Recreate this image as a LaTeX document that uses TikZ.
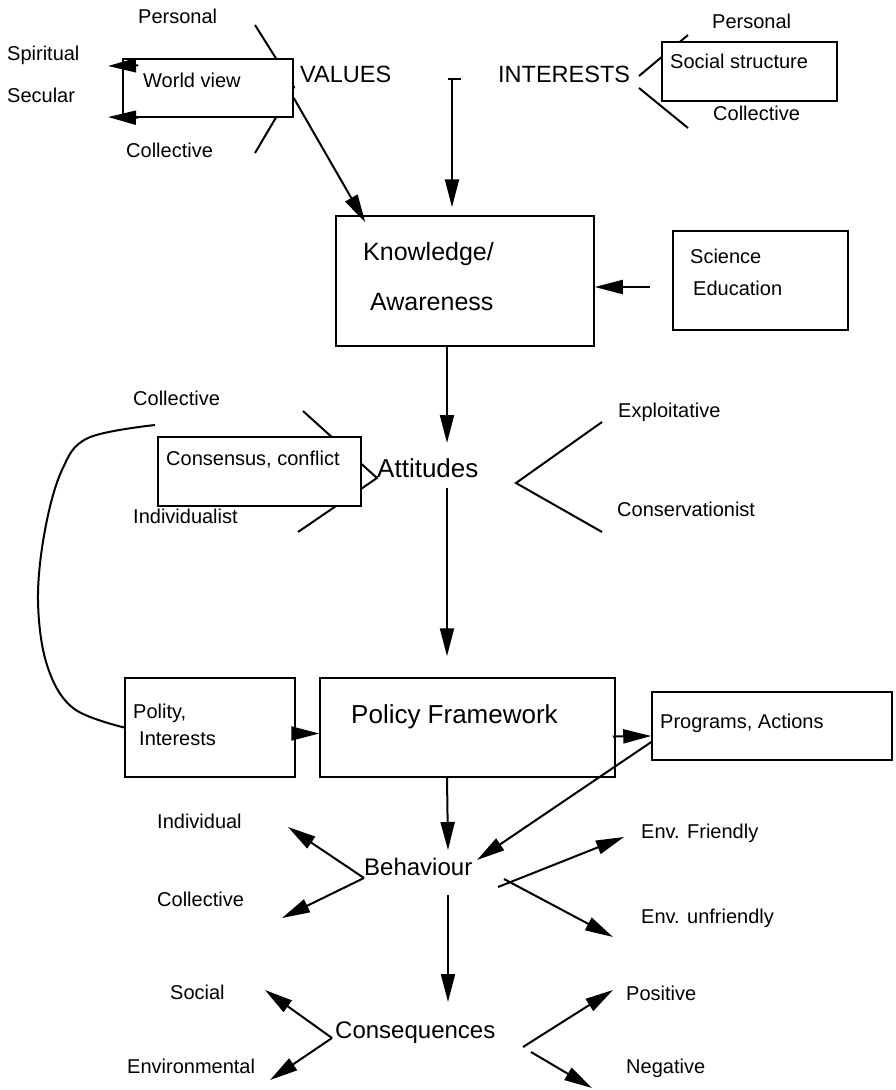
\documentclass[tikz,border=0pt]{standalone}
\usepackage{fontspec}
\setmainfont{Liberation Sans}
\usetikzlibrary{arrows.meta,calc}

\begin{document}
\begin{tikzpicture}[x=1pt, y=-1pt,
  box/.style={draw, line width=1.5pt, fill=white, inner sep=0pt},
  lbl/.style={font=\fontsize{20}{22}\selectfont, anchor=base west, inner sep=0pt},
  big/.style={font=\fontsize{24}{26}\selectfont, anchor=base west, inner sep=0pt},
  arr/.style={-{Triangle[length=28pt,width=14pt]}, line width=2pt},
  brk/.style={line width=2pt}
]
\useasboundingbox (0,0) rectangle (895,1090);

% ---- Values / Interests (top) ----
\draw[brk] (255,25) -- (294,87) -- (255,153);
\draw[brk] (639,76) -- (688,35);
\draw[brk] (639,88) -- (688,128);

\node[box, minimum width=170pt, minimum height=58pt] (world) at (208,88) {};
\node[box, minimum width=175pt, minimum height=59pt] (social) at (749.5,71.5) {};

\node[lbl] (pers1) at (138,23) {Personal};
\node[lbl] (spir) at (7,60) {Spiritual};
\node[lbl] (secu) at (7,102) {Secular};
\node[lbl] (coll1) at (126,157) {Collective};
\node[lbl] (worldt) at (143,87) {World view};
\node[big, font=\fontsize{23.5}{26}\selectfont] (values) at (300,82) {VALUES};
\node[big, font=\fontsize{23.5}{26}\selectfont] (inter) at (498,82) {INTERESTS};
\node[lbl] (pers2) at (712,28) {Personal};
\node[lbl] (socialt) at (670,68) {Social structure};
\node[lbl] (coll2) at (713,120) {Collective};

\coordinate (spirtip) at (108,66);
\coordinate (secutip) at (108,117);
\draw[arr] ([xshift=16pt,yshift=-7pt]world.north west) -- (spirtip);
\draw[arr] ([xshift=16pt]world.south west) -- (secutip);

% ---- Knowledge / Awareness ----
\node[box, minimum width=258pt, minimum height=130pt] (know) at (465,281) {};
\node[box, minimum width=175pt, minimum height=99pt] (sci) at (760.5,280.5) {};
\node[big, font=\fontsize{25}{27}\selectfont] (knowt) at (363,260) {Knowledge/};
\node[big, font=\fontsize{25}{27}\selectfont] (awat) at (370,310) {Awareness};
\node[lbl] (scit) at (690,263) {Science};
\node[lbl] (edut) at (693,295) {Education};

\draw[arr] ([yshift=-10pt]world.east) -- ([xshift=30pt,yshift=-7pt]know.north west);
\coordinate (vi) at (452,79);
\draw[line width=2pt] ([xshift=-4pt]vi) -- ([xshift=9pt]vi);
\draw[arr, shorten >=8pt] (vi) -- (vi |- know.north);
\coordinate (sciarr) at (650,287);
\draw[arr] (sciarr) -- (sciarr -| know.east);

% ---- Attitudes ----
\draw[brk] (303,411) -- (377,478) -- (298,532);
\draw[brk] (602,422) -- (516,483) -- (602,532);
\node[box, minimum width=203pt, minimum height=69pt] (cons) at (259.5,471.5) {};

\node[lbl] (coll3) at (133,405) {Collective};
\node[lbl] (const) at (166,465) {Consensus, conflict};
\node[lbl] (indiv1) at (133,523) {Individualist};
\node[big, font=\fontsize{26}{28}\selectfont] (att) at (377,477) {Attitudes};
\node[lbl] (expl) at (618,417) {Exploitative};
\node[lbl] (cnsv) at (617,516) {Conservationist};

\coordinate (axis) at (447,0);
\draw[arr] (axis |- know.south) -- (447,443);

% ---- Policy ----
\node[box, minimum width=170pt, minimum height=99pt] (polity) at (210,727.5) {};
\node[box, minimum width=295pt, minimum height=99pt] (policy) at (467.5,727.5) {};
\node[box, minimum width=240pt, minimum height=68pt] (prog) at (772,726) {};
\node[lbl] (polt) at (133,718) {Polity,};
\node[lbl] (intt) at (139,745) {Interests};
\node[big, font=\fontsize{26}{28}\selectfont] (polct) at (351,723) {Policy Framework};
\node[lbl] (progt) at (660,728) {Programs, Actions};

\draw[arr, shorten >=21pt] (447,488) -- (axis |- policy.north);
\draw[brk] plot[smooth, tension=0.6] coordinates
  {(155,425) (88,438) (62,470) (45,530) (38,600) (47,665) (73,708) (polity.west)};
\draw[arr] ([yshift=-6pt]polity.east) -- ([yshift=-6pt]policy.west);
\draw[arr] ([xshift=-3pt,yshift=-9pt]policy.east) -- ([yshift=-10pt]prog.west);

% ---- Behaviour ----
\node[big] (beh) at (364,875) {Behaviour};
\node[lbl] (indiv2) at (157,828) {Individual};
\node[lbl] (coll4) at (157,906) {Collective};
\node[lbl] (envf) at (641,838) {Env. Friendly};
\node[lbl] (envu) at (641,923) {Env. unfriendly};

\coordinate (behtip) at (477,860);
\draw[arr] ([yshift=-16pt]prog.west) -- (behtip);
\draw[arr] (axis |- policy.south) -- (448,850);
\coordinate (bl) at (364,878);
\draw[arr] (bl) -- (288,827);
\draw[arr] (bl) -- (282,918);
\draw[arr] (498,887) -- (624,837);
\draw[arr] (504,879) -- (613,937);

% ---- Consequences ----
\node[big] (conq) at (335,1038) {Consequences};
\node[lbl] (soc) at (170,999) {Social};
\node[lbl] (envl) at (127,1073) {Environmental};
\node[lbl] (pos) at (626,1000) {Positive};
\node[lbl] (neg) at (626,1073) {Negative};

\draw[arr] (448,895) -- (448,1002);
\coordinate (cl) at (332,1038);
\draw[arr] (cl) -- (265,990);
\draw[arr] (cl) -- (270,1080);
\draw[arr] (523,1047) -- (613,990);
\draw[arr] (531,1052) -- (592,1088);
\end{tikzpicture}
\end{document}
